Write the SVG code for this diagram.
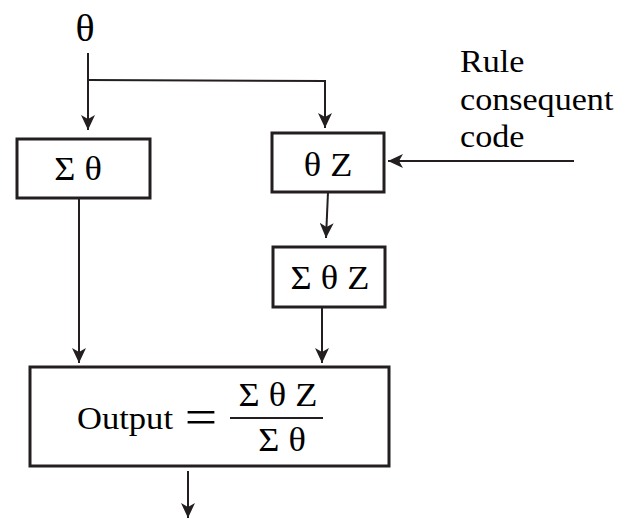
<svg xmlns="http://www.w3.org/2000/svg" width="629" height="519" viewBox="0 0 629 519">
  <defs>
    <style>
      .box { fill: #ffffff; stroke: #231f20; stroke-width: 3; }
      .wire { fill: none; stroke: #231f20; stroke-width: 2; }
      .lbl { font-family: "Liberation Serif", "Times New Roman", serif; fill: #000000; }
      .bar { stroke: #231f20; stroke-width: 2; }
    </style>
    <marker id="arrow" markerUnits="userSpaceOnUse" markerWidth="16" markerHeight="14" refX="15" refY="7" orient="auto">
      <path d="M0,0 L15,7 L0,14 L4,7 Z" fill="#231f20"/>
    </marker>
  </defs>

  <!-- input symbol -->
  <g id="input">
    <text class="lbl" font-size="38" text-anchor="middle" transform="translate(85,41) scale(1.05,1)">θ</text>
  </g>

  <!-- side input label -->
  <g id="rule-code">
    <text class="lbl" font-size="31" transform="translate(460,72) scale(1.1,1)">Rule</text>
    <text class="lbl" font-size="31" transform="translate(460,110) scale(1.1,1)">consequent</text>
    <text class="lbl" font-size="31" transform="translate(460,147) scale(1.1,1)">code</text>
  </g>

  <g id="sum-theta">
    <rect class="box" x="17" y="139" width="133" height="59"/>
    <text class="lbl" font-size="33" text-anchor="middle" transform="translate(78,180) scale(1.1,1)">Σ θ</text>
  </g>

  <g id="theta-z">
    <rect class="box" x="272" y="133" width="112" height="59"/>
    <text class="lbl" font-size="33" text-anchor="middle" transform="translate(328,176) scale(1.1,1)">θ Z</text>
  </g>

  <g id="sum-theta-z">
    <rect class="box" x="273" y="247" width="112" height="60"/>
    <text class="lbl" font-size="33" text-anchor="middle" transform="translate(330,289) scale(1.1,1)">Σ θ Z</text>
  </g>

  <g id="output">
    <rect class="box" x="30" y="367" width="359" height="99"/>
    <text class="lbl" font-size="32" transform="translate(77,429) scale(1.08,1)">Output</text>
    <text class="lbl" font-size="50" text-anchor="middle" transform="translate(201,434) scale(1.15,1)">=</text>
    <line class="bar" x1="230" y1="418" x2="323" y2="418"/>
    <text class="lbl" font-size="33" text-anchor="middle" transform="translate(278,406) scale(1.1,1)">Σ θ Z</text>
    <text class="lbl" font-size="33" text-anchor="middle" transform="translate(282,451) scale(1.1,1)">Σ θ</text>
  </g>

  <g id="connectors">
    <path class="wire" d="M88,53 L88,130" marker-end="url(#arrow)"/>
    <path class="wire" d="M88,80 L325,81 L325,128" marker-end="url(#arrow)"/>
    <path class="wire" d="M574,161 L388,161" marker-end="url(#arrow)"/>
    <path class="wire" d="M328,192 L326,238" marker-end="url(#arrow)"/>
    <path class="wire" d="M79,198 L79,363" marker-end="url(#arrow)"/>
    <path class="wire" d="M322,307 L322,363" marker-end="url(#arrow)"/>
    <path class="wire" d="M188,471 L188,518" marker-end="url(#arrow)"/>
  </g>
</svg>
